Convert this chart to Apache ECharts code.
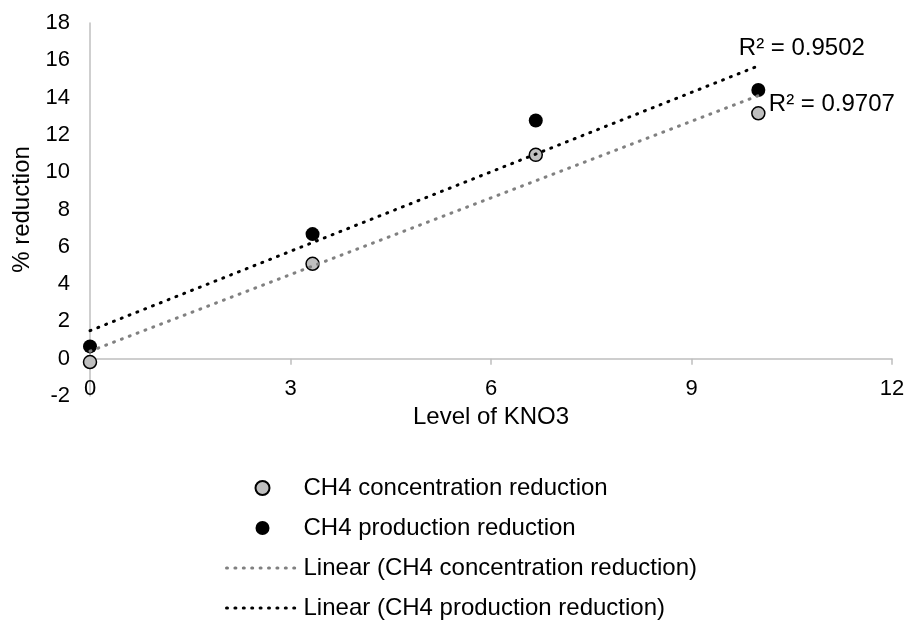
<!DOCTYPE html>
<html lang="en">
<head>
	<meta charset="utf-8">
	<title>CH4 reduction vs KNO3</title>
	<script src="https://cdn.jsdelivr.net/npm/echarts@6/dist/echarts.min.js"></script>
	<style>
		html, body { margin: 0; padding: 0; background: #fff; }
		#main { width: 910px; height: 623px; }
	</style>
</head>
<body>
	<div id="main"></div>
	<script type="text/javascript">
		// levels of KNO3 (x)
		var levels = [0, 3.33, 6.67, 10];
		// % reduction
		var concReduction = [-0.18, 5.09, 10.93, 13.16];
		var prodReduction = [0.66, 6.68, 12.77, 14.41];
		// trendline end points
		var concTrend = [[0, 0.4], [10, 14.1]];
		var prodTrend = [[0, 1.5], [10, 15.7]];
		// R² labels
		var r2Labels = ['R² = 0.9707', 'R² = 0.9502'];

		var seriesNames = [
			'CH4 concentration reduction',
			'CH4 production reduction',
			'Linear (CH4 concentration reduction)',
			'Linear (CH4 production reduction)'
		];

		var font = 'Liberation Sans, Arial';
		var dots = [1, 7.4];

		function pairs(xs, ys) {
			var out = [];
			for (var i = 0; i < xs.length; i++) {
				out.push([xs[i], ys[i]]);
			}
			return out;
		}

		// last point of a trendline carries the R² label
		function trendData(pts, label, pos) {
			return pts.map(function(p, i) {
				if (i < pts.length - 1) return p;
				return {
					value: p,
					label: {
						show: true,
						formatter: label,
						position: pos,
						align: 'left',
						verticalAlign: 'middle',
						color: '#000',
						fontSize: 24,
						fontFamily: font
					}
				};
			});
		}

		var myChart = echarts.init(document.getElementById('main'));

		// the horizontal axis sits on y = 0, labels included
		var gridTop = 23, gridBottom = 227, yMin = -2, yMax = 18;
		var plotH = 623 - gridTop - gridBottom;
		var zeroShift = -plotH * (0 - yMin) / (yMax - yMin);

		var option = {
			animation: false,
			textStyle: { fontFamily: font },
			grid: { left: 90, right: 18, top: gridTop, bottom: gridBottom },
			xAxis: {
				type: 'value',
				min: 0, max: 12, interval: 3,
				offset: zeroShift,
				name: 'Level of KNO3',
				nameLocation: 'middle',
				nameGap: 47,
				nameTextStyle: { fontSize: 24, color: '#000', fontFamily: font },
				axisLine: { onZero: false, lineStyle: { color: '#bfbfbf', width: 1.5 } },
				axisTick: { show: true, length: 6, lineStyle: { color: '#bfbfbf', width: 1.5 } },
				axisLabel: { margin: 19, fontSize: 22, color: '#000', fontFamily: font },
				splitLine: { show: false }
			},
			yAxis: {
				type: 'value',
				min: yMin, max: yMax, interval: 2,
				name: '% reduction',
				nameLocation: 'middle',
				nameGap: 56,
				nameTextStyle: { fontSize: 24, color: '#000', fontFamily: font },
				axisLine: { show: true, onZero: false, lineStyle: { color: '#bfbfbf', width: 1.5 } },
				axisTick: { show: false },
				axisLabel: { margin: 20, fontSize: 22, color: '#000', fontFamily: font },
				splitLine: { show: false }
			},
			legend: {
				orient: 'vertical',
				left: 225,
				top: 476,
				height: 200,
				padding: 0,
				itemWidth: 72,
				itemHeight: 14,
				itemGap: 16,
				lineStyle: { width: 3, type: dots, cap: 'round' },
				textStyle: { fontSize: 24, color: '#000', fontFamily: font },
				data: seriesNames
			},
			series: [
				{
					name: seriesNames[0],
					type: 'scatter',
					symbol: 'circle',
					symbolSize: 13,
					itemStyle: { color: '#bfbfbf', borderColor: '#000', borderWidth: 1.5, opacity: 1 },
					data: pairs(levels, concReduction)
				},
				{
					name: seriesNames[1],
					type: 'scatter',
					symbol: 'circle',
					symbolSize: 14,
					itemStyle: { color: '#000', opacity: 1 },
					data: pairs(levels, prodReduction)
				},
				{
					name: seriesNames[2],
					type: 'line',
					symbol: 'circle',
					symbolSize: 1,
					itemStyle: { color: 'rgba(0,0,0,0)' },
					lineStyle: { color: '#808080', width: 3, type: dots, cap: 'round' },
					data: trendData(concTrend, r2Labels[0], [11, 9])
				},
				{
					name: seriesNames[3],
					type: 'line',
					symbol: 'circle',
					symbolSize: 1,
					itemStyle: { color: 'rgba(0,0,0,0)' },
					lineStyle: { color: '#000', width: 3, type: dots, cap: 'round' },
					data: trendData(prodTrend, r2Labels[1], [-19, -17])
				}
			]
		};

		myChart.setOption(option);
	</script>
</body>
</html>
